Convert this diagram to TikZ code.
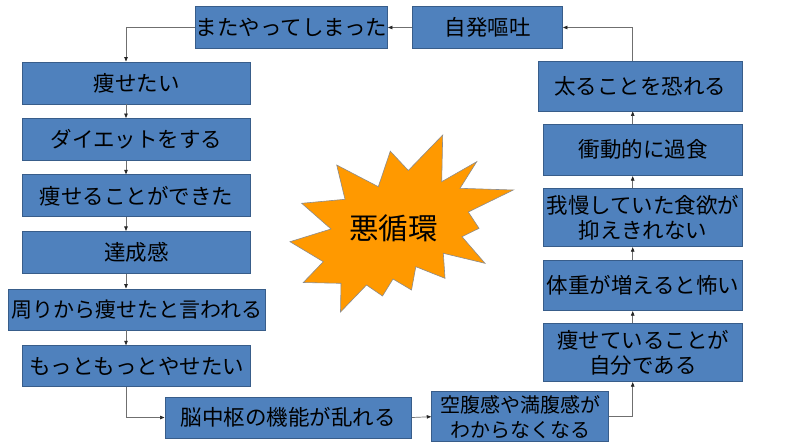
\documentclass[tikz,border=0pt]{standalone}
\usepackage{fontspec}
\setmainfont{Noto Sans CJK JP}
\usetikzlibrary{arrows.meta}
\definecolor{boxfill}{HTML}{4F81BD}
\definecolor{boxline}{HTML}{385D8A}
\definecolor{burstfill}{HTML}{FF9900}
\definecolor{conncol}{HTML}{6F6F6F}
\begin{document}
\begin{tikzpicture}[x=1pt,y=-1pt,
  box/.style={draw=boxline, line width=0.9pt, fill=boxfill, inner sep=0pt, align=center,
    text=black, font=\fontsize{21.5}{25}\selectfont},
  lbox/.style={box, minimum width=228pt, minimum height=42pt},
  rbox/.style={box, minimum width=199.4pt},
  conn/.style={draw=conncol, line width=0.7pt, -{Triangle[length=4.5pt,width=3.5pt,color=black!85]}}]
\fill[white] (0,0) rectangle (794,447);
\useasboundingbox (0,0) rectangle (794,447);

\coordinate (lx) at (126,0);
\coordinate (rx) at (632.7,0);

% top row
\node[box, minimum width=192pt, minimum height=42pt] (A) at (291.5,27.5) {またやってしまった};
\node[box, minimum width=150pt, minimum height=42pt] (B) at (487.5,27.5) {自発嘔吐};

% left column
\node[lbox] (L1) at (136.5,83) {痩せたい};
\node[lbox] (L2) at (136.5,139.5) {ダイエットをする};
\node[lbox] (L3) at (136.5,195.8) {痩せることができた};
\node[lbox] (L4) at (136.5,252.4) {達成感};
\node[box, minimum width=256.5pt, minimum height=41pt, font=\fontsize{21}{25}\selectfont] (L5) at (136.7,309.5) {周りから痩せたと言われる};
\node[lbox, minimum height=41pt] (L6) at (136.5,366.2) {もっともっとやせたい};

% bottom row
\node[box, minimum width=246.7pt, minimum height=41pt] (M) at (288.3,417.5) {脳中枢の機能が乱れる};
\node[box, minimum width=176.6pt, minimum height=50pt, font=\fontsize{20}{25}\selectfont] (K) at (520,416.7) {空腹感や満腹感が\\わからなくなる};

% right column
\node[box, minimum width=204pt, minimum height=50pt] (R0) at (640,86) {太ることを恐れる};
\node[rbox, minimum height=51.7pt] (R1) at (643,149.8) {衝動的に過食};
\node[rbox, minimum height=58.4pt] (R2) at (643,217.5) {我慢していた食欲が\\抑えきれない};
\node[rbox, minimum height=50.7pt] (R3) at (643,285.3) {体重が増えると怖い};
\node[rbox, minimum height=58.4pt] (R4) at (643,352.5) {痩せていることが\\自分である};

% connectors
\draw[conn] (B.west) -- (A.east);
\draw[conn] (A.west) -| (L1.north -| lx);
\draw[conn] (L1.south -| lx) -- (L2.north -| lx);
\draw[conn] (L2.south -| lx) -- (L3.north -| lx);
\draw[conn] (L3.south -| lx) -- (L4.north -| lx);
\draw[conn] (L4.south -| lx) -- (L5.north -| lx);
\draw[conn] (L5.south -| lx) -- (L6.north -| lx);
\draw[conn] (L6.south -| lx) |- (M.west);
\draw[conn] (M.east) -- (K.west);
\draw[conn] (K.east) -| (R4.south -| rx);
\draw[conn] (R4.north -| rx) -- (R3.south -| rx);
\draw[conn] (R3.north -| rx) -- (R2.south -| rx);
\draw[conn] (R2.north -| rx) -- (R1.south -| rx);
\draw[conn] (R1.north -| rx) -- (R0.south -| rx);
\draw[conn] (R0.north -| rx) |- (B.east);

% starburst
\draw[fill=burstfill, draw=black!45, line width=0.6pt]
 (442.7,135) -- (441.7,181.7) -- (476.7,161.7) -- (460,188.3) -- (513.3,190)
 -- (468.3,212) -- (479,228.3) -- (462,236.7) -- (485,263.3) -- (443.3,253.3)
 -- (445,278.3) -- (415.8,266.7) -- (411.5,290) -- (393,279) -- (382.5,296)
 -- (366.5,285) -- (340.5,312) -- (341,283.3) -- (303.3,282.5) -- (323.3,261.7)
 -- (290,241.7) -- (331,229) -- (301.7,203.3) -- (345,199.3) -- (336.7,165)
 -- (378.3,186.7) -- (390.3,151.2) -- (408.3,170.5) -- cycle;
\node[font=\fontsize{29.5}{30}\selectfont, inner sep=0pt] (burst) at (393.3,228) {悪循環};
\end{tikzpicture}
\end{document}
